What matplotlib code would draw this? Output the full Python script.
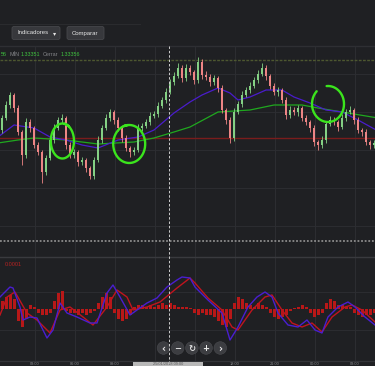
import numpy as np
import matplotlib
matplotlib.use("Agg")
import matplotlib.pyplot as plt
from matplotlib.patches import FancyBboxPatch, Circle, Rectangle

# ---------------- data ----------------
first_open = 1.33470
closes = [1.33482, 1.33495, 1.33505, 1.33492, 1.33468, 1.33445, 1.33478, 1.33472, 1.33455, 1.33448,
          1.33428, 1.33442, 1.33460, 1.33472, 1.33480, 1.33482, 1.33455, 1.33445, 1.33448, 1.33438,
          1.33440, 1.33432, 1.33424, 1.33440, 1.33460, 1.33472, 1.33482, 1.33488, 1.33480, 1.33472,
          1.33462, 1.33452, 1.33448, 1.33450, 1.33472, 1.33474, 1.33478, 1.33484, 1.33486, 1.33494,
          1.33500, 1.33508, 1.33518, 1.33524, 1.33532, 1.33522, 1.33532, 1.33528, 1.33520, 1.33538,
          1.33525, 1.33523, 1.33518, 1.33522, 1.33512, 1.33490, 1.33480, 1.33462, 1.33488, 1.33496,
          1.33505, 1.33510, 1.33514, 1.33520, 1.33526, 1.33532, 1.33524, 1.33514, 1.33508, 1.33510,
          1.33500, 1.33485, 1.33490, 1.33488, 1.33492, 1.33482, 1.33478, 1.33472, 1.33458, 1.33455,
          1.33460, 1.33476, 1.33480, 1.33478, 1.33473, 1.33482, 1.33488, 1.33490, 1.33480, 1.33470,
          1.33468, 1.33458, 1.33455, 1.33457]
upper_wick = [3, 4, 3, 2, 3, 2, 4, 3, 2, 3, 2, 3, 3, 4, 3, 4, 2, 3, 3, 2,
              3, 2, 2, 3, 4, 3, 4, 3, 2, 3, 2, 3, 2, 3, 4, 3, 3, 4, 3, 4,
              3, 4, 3, 4, 5, 3, 4, 3, 2, 5, 3, 4, 3, 3, 2, 3, 2, 3, 4, 3,
              4, 3, 4, 3, 4, 5, 3, 2, 3, 3, 2, 3, 4, 3, 3, 2, 3, 2, 3, 2,
              4, 3, 4, 3, 2, 4, 3, 4, 2, 3, 2, 3, 2, 3]
lower_wick = [3, 2, 3, 4, 3, 10, 3, 4, 3, 3, 11, 3, 2, 3, 2, 3, 4, 3, 3, 4,
              3, 4, 3, 3, 2, 3, 2, 3, 4, 3, 4, 3, 5, 3, 2, 3, 2, 3, 2, 3,
              2, 3, 2, 3, 2, 4, 3, 3, 4, 3, 4, 3, 4, 3, 4, 3, 4, 5, 3, 2,
              3, 2, 3, 2, 3, 2, 4, 3, 3, 4, 3, 4, 3, 3, 4, 3, 3, 4, 4, 5,
              3, 3, 2, 3, 4, 2, 3, 2, 4, 3, 4, 3, 4, 3]

ma_blue_idx = [-1, 3, 8, 12, 16, 20, 24, 29, 34, 38, 43, 47, 50, 54, 57, 59, 62, 66, 70, 73, 77, 81, 85, 89, 94]
ma_blue = [1.33463, 1.33475, 1.33472, 1.33463, 1.33460, 1.33455, 1.33452, 1.33460, 1.33463, 1.33470,
           1.33487, 1.33498, 1.33505, 1.33512, 1.33507, 1.33500, 1.33503, 1.33510, 1.33510, 1.33503,
           1.33497, 1.33490, 1.33488, 1.33480, 1.33469]
ma_green_idx = [-1, 4, 8, 16, 24, 33, 38, 43, 47, 54, 62, 68, 75, 79, 85, 94]
ma_green = [1.33457, 1.33460, 1.33462, 1.33460, 1.33456, 1.33458, 1.33462, 1.33468, 1.33473, 1.33488,
            1.33490, 1.33495, 1.33495, 1.33492, 1.33488, 1.33482]

ref_price = 1.33462
day_high = 1.33540

macd_idx = [-0.5, 2, 2.75, 4.5, 5.25, 7, 8.75, 10.25, 11.25, 12.75, 14.5, 16.25, 18.75, 22, 23.75,
            26.25, 27.75, 29.5, 32, 33.75, 36.25, 38.75, 41.25, 43.75, 45, 47, 48.25, 51.5, 55, 57,
            59, 61.5, 63.75, 65.75, 67.5, 69, 71.5, 74, 76.25, 78.25, 80, 81.5, 84, 86.5, 88.25,
            90.75, 93.25]
macd_line = [6, 11, 10.5, 1, -5.5, -4, -4.5, -10.5, -14.5, -10.5, 3, -2, -4, -7, -7,
             8, 12, 6, -3, -0.5, 3, 5.5, 11, 14.5, 16, 15.5, 11, 4.5, -2, -15.5,
             -9, 1, 6, 8.5, 6, -2, -8, -9, -5.5, -10.5, -12, -4, 1, 3.5, 1,
             -4, -8]
signal_idx = [-0.5, 1.25, 3.25, 6.25, 8.75, 12, 14.5, 17, 20.25, 22.75, 26.25, 28.75, 31.25, 32.75,
              36.25, 39.5, 43.75, 47, 48.25, 51.5, 55, 57.5, 59, 62.5, 65.75, 67.5, 70, 72.5, 75,
              77.5, 80, 82.5, 85.75, 87.5, 90, 93.25]
signal_line = [-3, 6, 8.5, -2, -5.5, -12, -0.5, 1, -4, -8, 1, 9.5, 6, -0.5,
               1, 3.5, 10.5, 15.5, 13, 5.5, -0.5, -9, -10.5, -0.5, 6, 7, -0.5, -7, -9,
               -7, -11.5, -4, 1, 2, -0.5, -6.5]
histogram = [4, 6, 7, 5, -6, -9, -5, 2, 1, -2, -3, -3, -2, 4, 8, 9, -1, -2, -2, -3,
             -2, -3, -2, -1, 3, 6, 8, 6, -2, -5, -6, -5, -3, 1, 2, 2, 1, 2, 1, 2,
             3, 2, 3, 2, 1, 1, 1, 0.5, -2, -3, -2, -3, -3, -4, -6, -8, -9, -5, 3, 6,
             5, 3, 2, 1, 3, 2, 1, -2, -4, -5, -4, -3, -1, 0.5, 1, 2, 1, -2, -4, -3,
             -2, 3, 5, 4, 2, 2, 1, 1, -2, -3, -4, -3, -3, -2]

loop_cx = [15.1, 31.8, 81.5]
loop_cy = [1.33459, 1.33456, 1.33496]
loop_rx = [2.9, 4.0, 4.0]
loop_ry = [17.5e-5, 19e-5, 18e-5]
loop_start = [80, 110, 95]
loop_sweep = [-385, -375, -320]

time_label_x = [35, 75, 115, 235, 275, 315, 355]
time_labels = ["03:00", "06:00", "09:00", "18:00", "21:00", "00:00", "03:00"]
crosshair_label = "25/01/2018 09:00"
crosshair_idx = 41.75

# ---------------- style ----------------
W, H = 375, 366
BG = "#1f2023"
GRID = "#2c2d31"
GREEN_C = "#84d084"
RED_C = "#ee8585"
FONT = "Liberation Sans"

fig = plt.figure(figsize=(W / 100, H / 100), dpi=100)
fig.patch.set_facecolor(BG)

def px_axes(zorder):
    a = fig.add_axes([0, 0, 1, 1], zorder=zorder)
    a.set_xlim(0, W)
    a.set_ylim(H, 0)
    a.axis("off")
    a.patch.set_alpha(0)
    return a

bg = px_axes(0)

# toolbar
bg.plot([0, 140], [24, 24], color="#2a2b2e", lw=0.8)
bg.plot([0, W], [45.5, 45.5], color="#2e2f33", lw=1.0)
for (x0, w) in [(12, 48), (67, 37)]:
    bg.add_patch(FancyBboxPatch((x0, 26.5), w, 13, boxstyle="round,pad=0,rounding_size=2",
                                fc="#37383c", ec="#46474b", lw=0.6))
bg.text(17, 33, "Indicadores", color="#e6e6e6", fontsize=4.3, family=FONT, va="center", ha="left")
bg.text(55, 33.3, "▾", color="#e6e6e6", fontsize=4.5, family="DejaVu Sans", va="center", ha="center")
bg.text(85.5, 33, "Comparar", color="#e6e6e6", fontsize=4.3, family=FONT, va="center", ha="center")

# grid
for gx in range(35, W, 40):
    bg.plot([gx, gx], [47, 361], color=GRID, lw=0.8)
for gy in [74, 112, 150, 188, 226, 292, 330]:
    bg.plot([0, W], [gy, gy], color=GRID, lw=0.7)
bg.plot([0, W], [241, 241], color="#8c8c8c", lw=1.3, ls=(0, (1, 1)))
bg.plot([0, W], [257, 257], color="#393a3e", lw=1.0)
bg.plot([0, W], [361, 361], color="#333438", lw=0.9)

# info line
info = [(0.3, "56", "#3fc23f"), (9, "MÍN", "#85868a"),
        (21, "1.33351", "#3fc23f"), (43, "Cerrar", "#85868a"),
        (61, "1.33356", "#3fc23f")]
for x, t, col in info:
    bg.text(x, 54, t, color=col, fontsize=3.9, family=FONT, va="center", ha="left")

bg.text(5, 264.5, "0.0001", color="#b52222", fontsize=4, family=FONT, va="center", ha="left")

# ---------------- price axes ----------------
xl = (-0.5, 93.25)
ax = fig.add_axes([0, 1 - 240 / H, 1, (240 - 47) / H], zorder=1)
ax.set_xlim(*xl)
ax.set_ylim(1.33360, 1.33553)
ax.axis("off")
ax.patch.set_alpha(0)

c = np.array(closes)
o = np.concatenate([[first_open], c[:-1]])
hi = np.maximum(o, c) + np.array(upper_wick) * 1e-5
lo = np.minimum(o, c) - np.array(lower_wick) * 1e-5
idx = np.arange(len(c))
cols = np.where(c >= o, GREEN_C, RED_C)

ax.axhline(day_high, color="#4d5730", lw=1.0, ls=(0, (2, 1)))
ax.axhline(ref_price, color="#7a1c1c", lw=1.0)
ax.plot(ma_green_idx, ma_green, color="#1fa81f", lw=0.9, zorder=2)
ax.plot(ma_blue_idx, ma_blue, color="#4a1ccc", lw=0.9, zorder=2)
ax.vlines(idx, lo, hi, colors=cols, lw=0.6, zorder=3)
body = np.maximum(np.abs(c - o), 1e-5)
ax.bar(idx, body, bottom=np.minimum(o, c), width=0.66, color=cols, lw=0, zorder=4)

for cx, cy, rx, ry, st, sw in zip(loop_cx, loop_cy, loop_rx, loop_ry, loop_start, loop_sweep):
    t = np.radians(np.linspace(st, st + sw, 200))
    ax.plot(cx + rx * np.cos(t), cy + ry * np.sin(t), color="#3be41d", lw=1.7,
            solid_capstyle="round", zorder=6)

# ---------------- MACD axes ----------------
mx = fig.add_axes([0, 1 - 362 / H, 1, (362 - 257) / H], zorder=1)
mx.set_xlim(*xl)
mx.set_ylim(-26.5e-5, 26e-5)
mx.axis("off")
mx.patch.set_alpha(0)
hidx = np.arange(len(histogram))
mx.bar(hidx, np.array(histogram) * 1e-5, width=0.75, color="#b81818", lw=0, zorder=2)
mx.plot(np.array(signal_idx), np.array(signal_line) * 1e-5, color="#c0141e", lw=1.0, zorder=3)
mx.plot(np.array(macd_idx), np.array(macd_line) * 1e-5, color="#4a1ed0", lw=1.0, zorder=4)

# ---------------- overlay ----------------
ov = px_axes(5)
cross_x = 4 * crosshair_idx + 2
ov.plot([cross_x, cross_x], [46, H], color="#cfcfcf", lw=0.7, ls=(0, (2.5, 2)))

for xx, lab in zip(time_label_x, time_labels):
    ov.text(xx, 362.4, lab, color="#8a8b8e", fontsize=2.8, family=FONT, ha="center", va="top")
ov.add_patch(Rectangle((133, 362), 70, 5, fc="#b8b8b8", ec="none"))
ov.text(168, 362.4, crosshair_label, color="#555555", fontsize=2.8, family=FONT, ha="center", va="top")

nav = ["‹", "−", "↻", "+", "›"]
for k, g in enumerate(nav):
    xx = 163.5 + 14.2 * k
    ov.add_patch(Circle((xx, 348), 6.3, fc="#3c3d41", ec="#4a4b4f", lw=0.4))
    ov.text(xx, 348.3, g, color="#e8e8e8", fontsize=6 if g not in "‹›" else 7,
            family="DejaVu Sans", ha="center", va="center", fontweight="bold")

fig.savefig("out.png", dpi=100, facecolor=BG)
